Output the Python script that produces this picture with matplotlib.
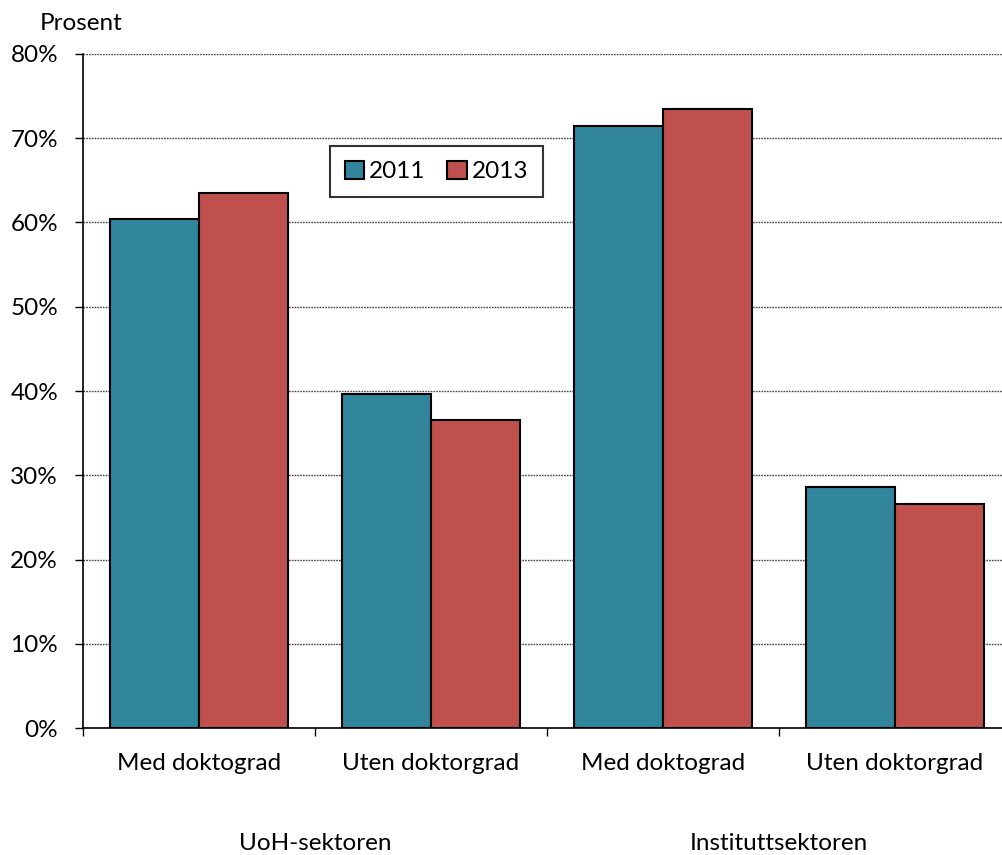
import matplotlib.pyplot as plt
import numpy as np

plt.rcParams["font.family"] = ["Lato", "DejaVu Sans"]

# Andel forskere med og uten doktorgrad, per sektor
CATEGORIES = ["Med doktograd", "Uten doktorgrad", "Med doktograd", "Uten doktorgrad"]
SECTORS = ["UoH-sektoren", "Instituttsektoren"]
YEARS = ["2011", "2013"]
VALUES_2011 = [60.4, 39.7, 71.5, 28.6]
VALUES_2013 = [63.5, 36.6, 73.5, 26.6]

COLORS = ["#31859C", "#C0504D"]
FS = 17.5

fig = plt.figure(figsize=(10.02, 8.55), dpi=100)
ax = fig.add_axes([83 / 1002, 127 / 855, 928 / 1002, 674 / 855])

x = np.arange(len(CATEGORIES))
width = 0.384

for i, (vals, year) in enumerate(zip([VALUES_2011, VALUES_2013], YEARS)):
    ax.bar(x + (i - 0.5) * width, vals, width, color=COLORS[i],
           edgecolor="black", linewidth=1.5, label=year, zorder=3)

ax.set_xlim(-0.5, len(CATEGORIES) - 0.5)
ax.set_ylim(0, 80)
ax.set_yticks(np.arange(0, 81, 10))
ax.set_yticklabels([f"{v}%" for v in range(0, 81, 10)], fontsize=FS)

ax.set_xticks(np.arange(-0.5, len(CATEGORIES), 1.0))
ax.set_xticklabels([])
ax.set_xticks(x, minor=True)
ax.set_xticklabels(CATEGORIES, minor=True, fontsize=FS)
ax.tick_params(axis="x", which="minor", length=0, pad=18)
ax.tick_params(axis="x", which="major", length=6, direction="out", width=1)
ax.tick_params(axis="y", length=6, direction="out", width=1, pad=12)

ax.yaxis.grid(True, linestyle=(0, (1.2, 0.8)), color="#444444", linewidth=1)
ax.set_axisbelow(True)

for side in ["top", "right"]:
    ax.spines[side].set_visible(False)
ax.spines["left"].set_linewidth(1.2)
ax.spines["bottom"].set_linewidth(1.2)

# Sektornavn under kategoriene
for j, sector in enumerate(SECTORS):
    ax.text(0.5 + 2 * j, -0.172, sector, transform=ax.get_xaxis_transform(),
            ha="center", va="center", fontsize=FS)

fig.text(40 / 1002, 1 - 24 / 855, "Prosent", ha="left", va="center", fontsize=FS)

leg = ax.legend(loc="upper left", bbox_to_anchor=(247 / 928, 1 - 92 / 674),
                ncol=2, frameon=True, fancybox=False, fontsize=FS,
                handlelength=0.8, handleheight=0.8, handletextpad=0.2,
                columnspacing=0.9, borderpad=0.6, borderaxespad=0)
leg.get_frame().set_edgecolor("black")
leg.get_frame().set_linewidth(1.5)

fig.savefig("out.png", dpi=100)
